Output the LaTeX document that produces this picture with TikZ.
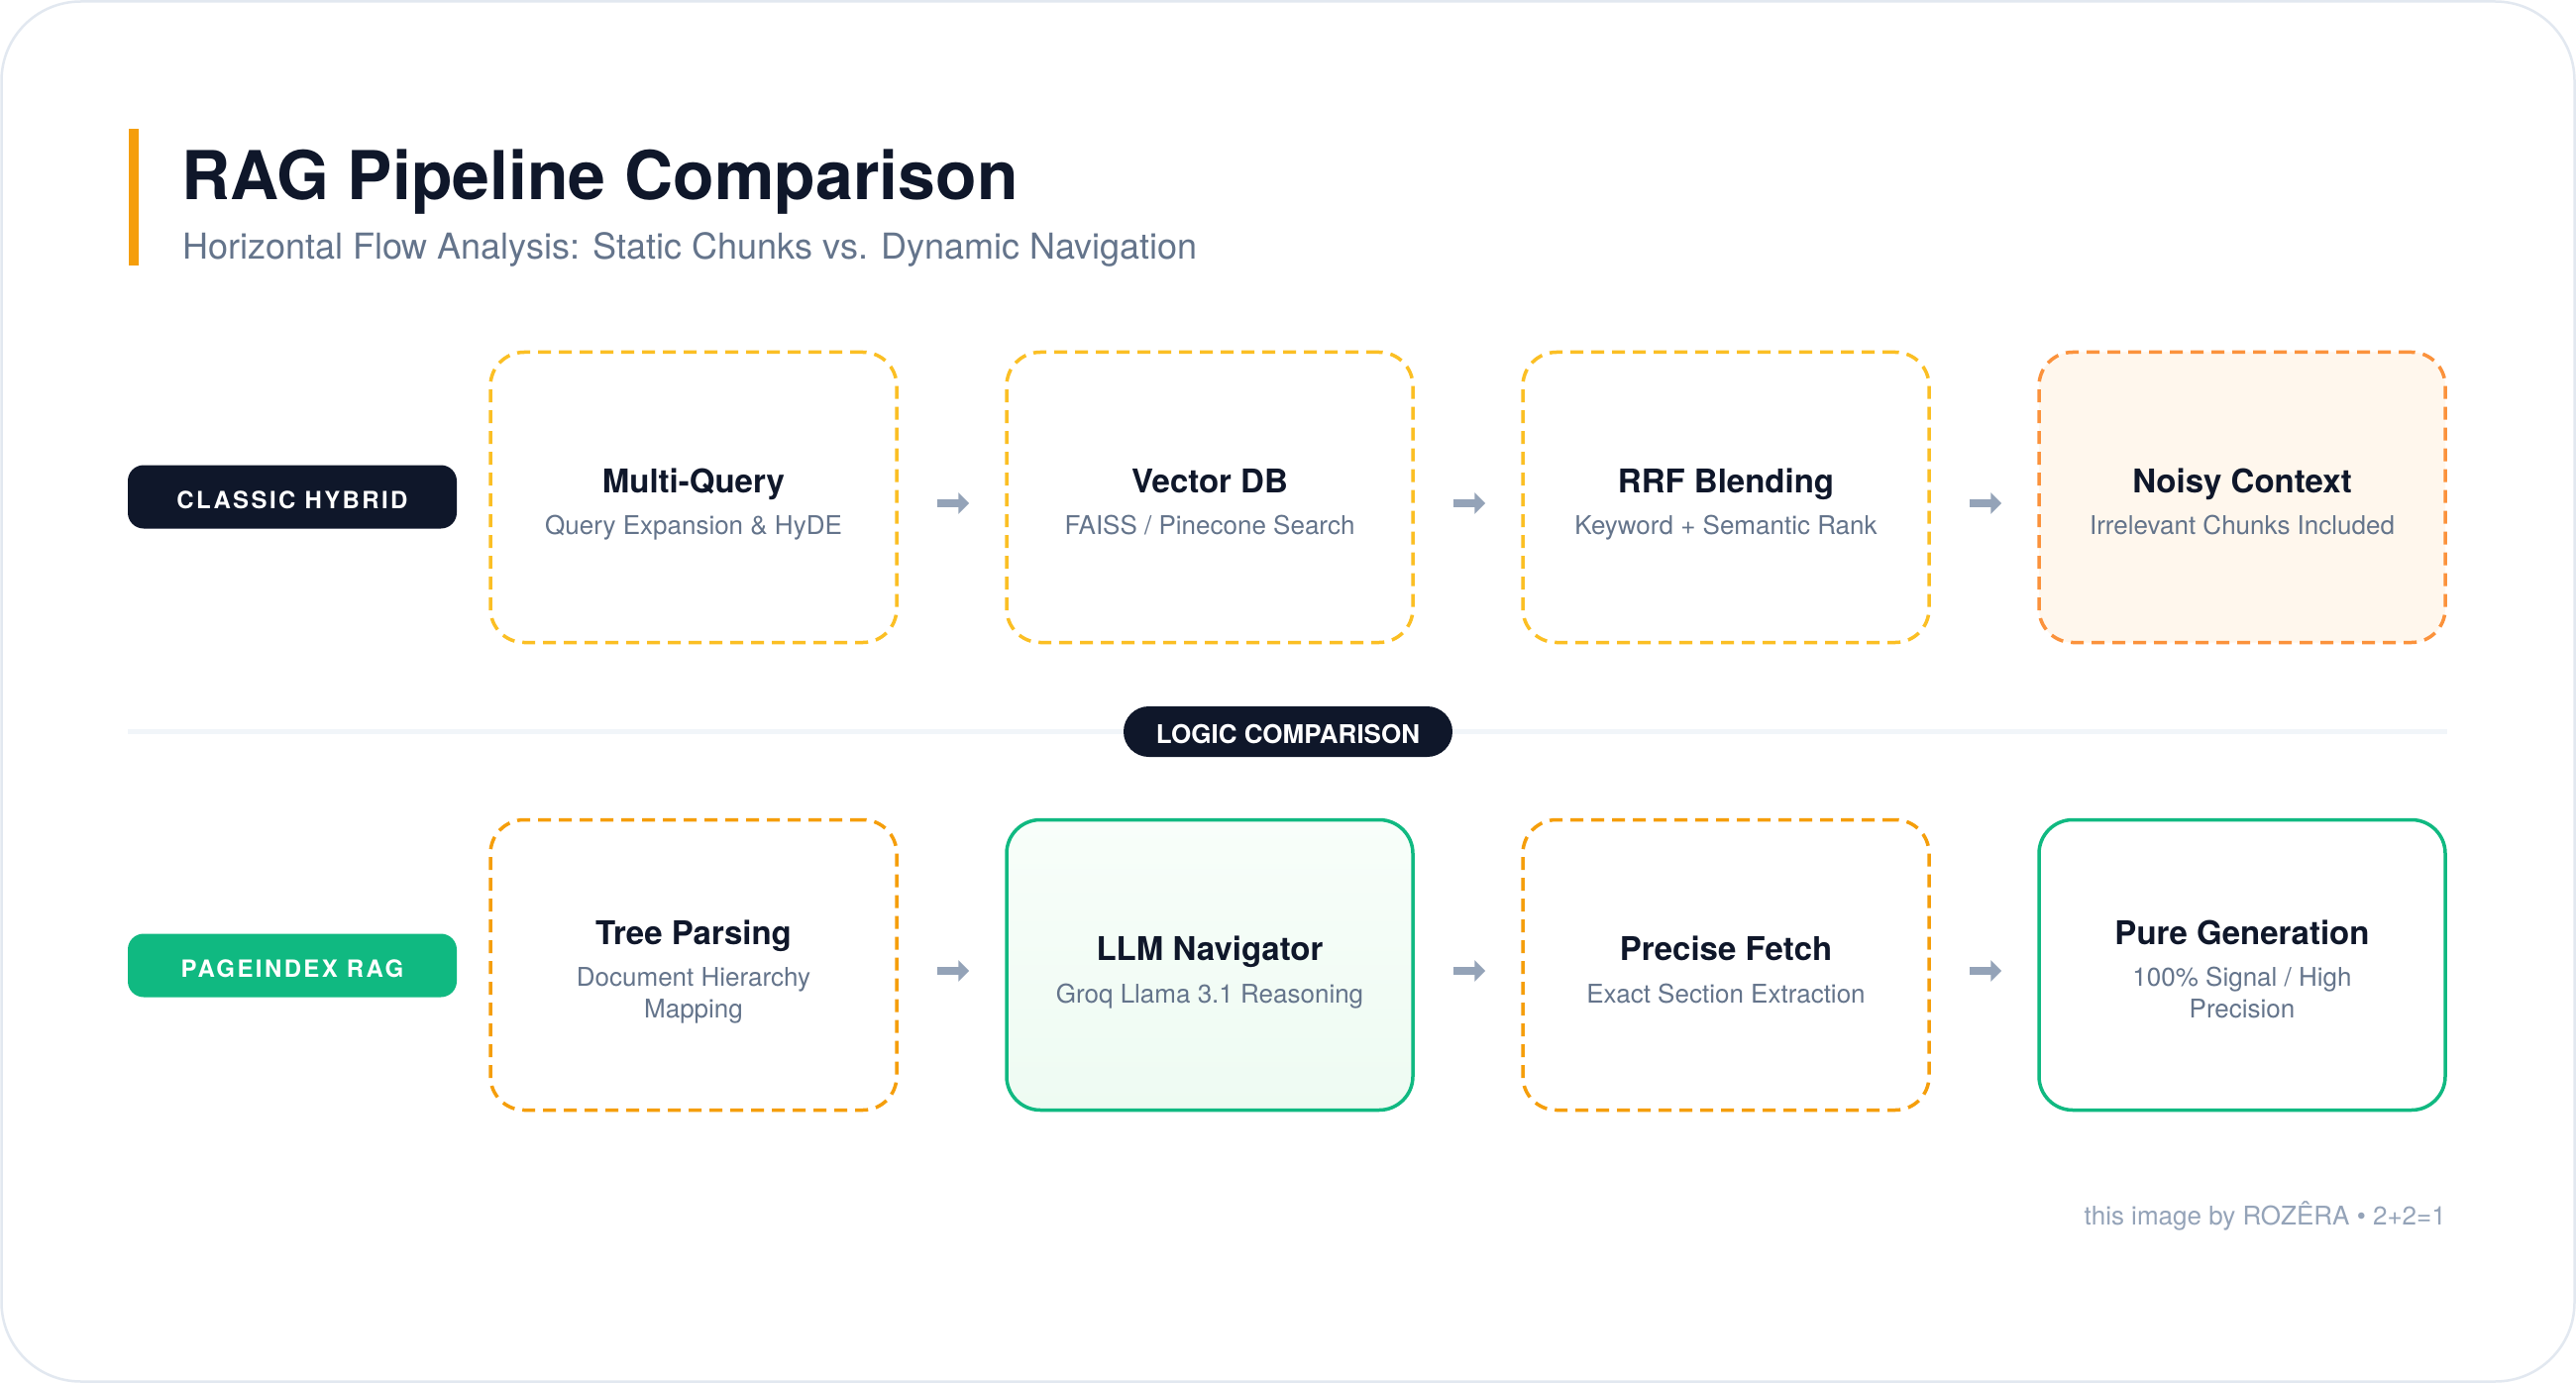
\documentclass[tikz,border=0pt]{standalone}
\usepackage{fontspec}
\setmainfont{TeX Gyre Heros}
\newfontfamily\lblfont[LetterSpace=10]{TeX Gyre Heros}
\usetikzlibrary{arrows.meta}
\definecolor{navy}{HTML}{0F172A}
\definecolor{emerald}{HTML}{10B981}
\definecolor{slatefive}{HTML}{64748B}
\definecolor{slatefour}{HTML}{94A3B8}
\definecolor{amberA}{HTML}{FBBF24}
\definecolor{amberC}{HTML}{F59E0B}
\definecolor{orangeB}{HTML}{FB923C}
\definecolor{orangebg}{HTML}{FFF7ED}
\definecolor{greenbgA}{HTML}{F8FEFA}
\definecolor{greenbgB}{HTML}{EEFBF2}
\definecolor{divcol}{HTML}{F1F5F9}
\definecolor{cardcol}{HTML}{E2E8F0}
\begin{document}
\begin{tikzpicture}[x=1pt,y=-1pt,
  stepbox/.style={rounded corners=34pt, minimum width=410pt, minimum height=293pt, line width=3.5pt, inner sep=0pt},
  dashbox/.style={stepbox, dash pattern=on 13pt off 8pt},
  ttl/.style={anchor=base, inner sep=0pt, text=navy, font=\bfseries\fontsize{33}{40}\selectfont},
  sub/.style={anchor=base, inner sep=0pt, text=slatefive, font=\fontsize{26}{32}\selectfont},
  lpill/.style={minimum width=332pt, minimum height=64pt, rounded corners=16pt, inner sep=0pt, text height=24pt, text depth=0pt, text=white, font=\lblfont\bfseries\fontsize{24}{28}\selectfont},
  arr/.style={draw=slatefour, line width=8pt, -{Triangle[length=11pt,width=21pt]}}
]
\useasboundingbox (0,0) rectangle (2600,1396);
\fill[white] (0,0) rectangle (2600,1396);
\draw[cardcol, line width=2.5pt, rounded corners=80pt, fill=white] (1.5,1.5) rectangle (2598.5,1394.5);

% header
\fill[amberC] (130,130) rectangle (140,268);
\node[anchor=base west, inner sep=0pt, text=navy, font=\bfseries\fontsize{68}{80}\selectfont] (title) at (183,202) {RAG Pipeline Comparison};
\node[anchor=base west, inner sep=0pt, text=slatefive, font=\fontsize{36}{42}\selectfont] (subtitle) at (184,262) {Horizontal Flow Analysis: Static Chunks vs. Dynamic Navigation};

% row labels
\node[lpill, fill=navy] (lab1) at (295,501.5) {CLASSIC HYBRID};
\node[lpill, fill=emerald] (lab2) at (295,974.5) {PAGEINDEX RAG};

% divider
\draw[divcol, line width=5pt] (129,738) -- (2470,738);
\node[fill=navy, minimum width=332pt, minimum height=51pt, rounded corners=25.5pt, inner sep=0pt, text height=24.6pt, text depth=0pt, text=white, font=\bfseries\fontsize{26}{30}\selectfont] (logic) at (1300,738.5) {LOGIC COMPARISON};

% row 1
\node[dashbox, draw=amberA] (a1) at (700,502) {};
\node[dashbox, draw=amberA] (a2) at (1221,502) {};
\node[dashbox, draw=amberA] (a3) at (1742,502) {};
\node[dashbox, draw=orangeB, fill=orangebg] (a4) at (2263,502) {};

\node[ttl] (a1t) at (700,497) {Multi-Query};
\node[sub] (a1s) at (700,539) {Query Expansion \& HyDE};
\node[ttl] (a2t) at (1221,497) {Vector DB};
\node[sub] (a2s) at (1221,539) {FAISS / Pinecone Search};
\node[ttl] (a3t) at (1742,497) {RRF Blending};
\node[sub] (a3s) at (1742,539) {Keyword + Semantic Rank};
\node[ttl] (a4t) at (2263,497) {Noisy Context};
\node[sub] (a4s) at (2263,539) {Irrelevant Chunks Included};

% row 2
\node[dashbox, draw=amberC] (b1) at (700,974) {};
\node[stepbox, draw=emerald, top color=greenbgA, bottom color=greenbgB] (b2) at (1221,974) {};
\node[dashbox, draw=amberC] (b3) at (1742,974) {};
\node[stepbox, draw=emerald, fill=white] (b4) at (2263,974) {};

\node[ttl] (b1t) at (700,953) {Tree Parsing};
\node[sub] (b1s) at (700,995) {Document Hierarchy};
\node[sub] (b1u) at (700,1027) {Mapping};
\node[ttl] (b2t) at (1221,969) {LLM Navigator};
\node[sub] (b2s) at (1221,1012) {Groq Llama 3.1 Reasoning};
\node[ttl] (b3t) at (1742,969) {Precise Fetch};
\node[sub] (b3s) at (1742,1012) {Exact Section Extraction};
\node[ttl] (b4t) at (2263,953) {Pure Generation};
\node[sub] (b4s) at (2263,995) {100\% Signal / High};
\node[sub] (b4u) at (2263,1027) {Precision};

% arrows
\draw[arr] ([xshift=39pt,yshift=-6pt]a1.east) -- ([xshift=-36pt,yshift=-6pt]a2.west);
\draw[arr] ([xshift=39pt,yshift=-6pt]a2.east) -- ([xshift=-36pt,yshift=-6pt]a3.west);
\draw[arr] ([xshift=39pt,yshift=-6pt]a3.east) -- ([xshift=-36pt,yshift=-6pt]a4.west);
\draw[arr] ([xshift=39pt,yshift=-6pt]b1.east) -- ([xshift=-36pt,yshift=-6pt]b2.west);
\draw[arr] ([xshift=39pt,yshift=-6pt]b2.east) -- ([xshift=-36pt,yshift=-6pt]b3.west);
\draw[arr] ([xshift=39pt,yshift=-6pt]b3.east) -- ([xshift=-36pt,yshift=-6pt]b4.west);

% footer
\node[anchor=base east, inner sep=0pt, text=slatefour, font=\fontsize{26}{30}\selectfont] (foot) at (2469,1236) {this image by ROZÊRA • 2+2=1};
\end{tikzpicture}
\end{document}
